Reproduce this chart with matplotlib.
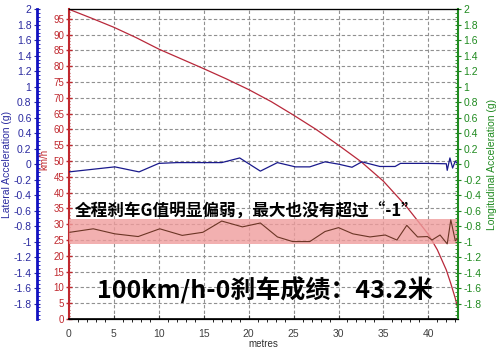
import matplotlib
matplotlib.use("Agg")
import matplotlib.pyplot as plt
from matplotlib.ticker import MultipleLocator

plt.rcParams['font.family'] = ['Liberation Sans', 'Noto Sans CJK SC', 'DejaVu Sans']

# speed trace (km/h) against distance (metres)
speed_x = [0, 2.5, 5, 7.5, 10, 12.5, 15, 17.5, 20, 22.5, 25, 27.5, 30, 32.5,
           35, 37.5, 39, 40, 41, 42, 42.5, 43, 43.3]
speed_v = [98, 95.2, 92.3, 89, 85.4, 82.3, 79.2, 76, 72.6, 68.8, 64.5, 60, 55,
           49.8, 43.6, 35.8, 30.4, 26.8, 21.9, 15.5, 11.2, 6.5, 3]

# lateral acceleration (g)
lat_x = [0, 5.1, 7.8, 10, 12, 15, 17, 19, 21.3, 23.2, 25.2, 26.8, 28.5, 30,
         31.5, 32.6, 34.6, 36.3, 36.9, 39.8, 42, 42.1, 42.4, 42.7, 43, 43.3]
lat_g = [-0.10, -0.035, -0.10, 0.01, 0.02, 0.02, 0.02, 0.08, -0.09, 0.02,
         -0.035, -0.035, 0.03, 0.0, -0.04, 0.03, -0.03, -0.03, 0.01, 0.01,
         0.005, -0.08, 0.08, -0.05, 0.04, 0.0]

# longitudinal acceleration (g)
lon_x = [0.1, 2.7, 5.1, 7.7, 10.1, 12.6, 14.9, 17, 19.3, 21.3, 23.2, 24.9,
         26.8, 28.5, 30, 31.6, 33.5, 35.2, 36.5, 37.6, 38.8, 39.9, 40.4, 41.3,
         42.1, 42.5, 43, 43.3]
lon_g = [-0.88, -0.835, -0.90, -0.935, -0.835, -0.92, -0.88, -0.735, -0.81,
         -0.76, -0.94, -1.0, -1.0, -0.87, -0.82, -0.90, -0.94, -0.915, -0.98,
         -0.79, -0.94, -0.935, -0.98, -0.915, -1.03, -0.72, -0.99, -0.96]

band = (-1.026, -0.714)

g_ticks = [2, 1.8, 1.6, 1.4, 1.2, 1, 0.8, 0.6, 0.4, 0.2, 0, -0.2, -0.4,
           -0.6, -0.8, -1, -1.2, -1.4, -1.6, -1.8]
g_labels = ['2', '1.8', '1.6', '1.4', '1.2', '1', '0.8', '0.6', '0.4', '0.2',
            '0', '-0.2', '-0.4', '-0.6', '-0.8', '-1', '-1.2', '-1.4', '-1.6',
            '-1.8']

note1 = "全程刹车G值明显偏弱，最大也没有超过“-1”"
note2 = "100km/h-0刹车成绩：43.2米"

blue = '#2a2aa0'
red = '#c0282e'
green = '#1f8a1f'

fig = plt.figure(figsize=(5, 3.55), dpi=100)
ax = fig.add_axes([0.138, 0.1014, 0.778, 0.8724])

# speed axis (main)
ax.plot(speed_x, speed_v, color='#b8283a', lw=0.9, zorder=3)
ax.set_xlim(0, 43.3)
ax.set_ylim(0, 98)
ax.yaxis.set_major_locator(MultipleLocator(5))
ax.yaxis.set_minor_locator(MultipleLocator(1))
ax.xaxis.set_major_locator(MultipleLocator(5))
ax.xaxis.set_minor_locator(MultipleLocator(1))
ax.grid(True, which='major', color='#909090', ls=(0, (3, 2)), lw=0.8)
ax.set_axisbelow(True)
ax.spines['left'].set_color(red)
ax.spines['left'].set_linewidth(1.5)
ax.spines['right'].set_visible(False)
ax.spines['bottom'].set_linewidth(1.2)
ax.tick_params(axis='y', colors=red, labelsize=7, direction='inout', length=4, width=1, pad=1.5)
ax.tick_params(axis='y', which='minor', colors=red, direction='inout', length=2)
ax.tick_params(axis='x', colors='#404040', labelsize=7.5, direction='in', length=3, pad=7)
ax.tick_params(axis='x', which='minor', length=2)
ax.set_xlabel('metres', fontsize=7, color='#303030', labelpad=0)

# lateral acceleration, outer left axis
ax_lat = ax.twinx()
ax_lat.spines['left'].set_visible(True)
ax_lat.spines['left'].set_position(('axes', -0.082))
ax_lat.spines['left'].set_color('#1010c0')
ax_lat.spines['left'].set_linewidth(2)
ax_lat.spines['right'].set_visible(False)
ax_lat.yaxis.set_ticks_position('left')
ax_lat.yaxis.set_label_position('left')
ax_lat.plot(lat_x, lat_g, color='#1a1a8c', lw=0.9, zorder=3)
ax_lat.set_ylim(-2, 2)
ax_lat.set_yticks(g_ticks)
ax_lat.set_yticklabels(g_labels)
ax_lat.yaxis.set_minor_locator(MultipleLocator(0.05))
ax_lat.tick_params(axis='y', colors=blue, labelsize=7.5, direction='inout', length=4, pad=2)
ax_lat.tick_params(axis='y', which='minor', colors='#1010c0', direction='in', length=2)
ax_lat.set_ylabel('Lateral Acceleration (g)', color=blue, fontsize=7.5, labelpad=1)

# longitudinal acceleration, right axis
ax_lon = ax.twinx()
ax_lon.spines['right'].set_color(green)
ax_lon.spines['right'].set_linewidth(1.5)
ax_lon.spines['left'].set_visible(False)
ax_lon.axhspan(band[0], band[1], color='#ef9c9c', alpha=0.8, lw=0, zorder=1)
ax_lon.plot(lon_x, lon_g, color='#6b3525', lw=0.8, zorder=3)
ax_lon.set_ylim(-2, 2)
ax_lon.set_yticks(g_ticks)
ax_lon.set_yticklabels(g_labels)
ax_lon.yaxis.set_minor_locator(MultipleLocator(0.05))
ax_lon.tick_params(axis='y', colors=green, labelsize=7.5, direction='inout', length=4, pad=2)
ax_lon.tick_params(axis='y', which='minor', colors=green, direction='in', length=2)
ax_lon.set_ylabel('Longitudinal Acceleration (g)', color=green, fontsize=7.5,
                  rotation=90, labelpad=4)

# km/h unit label sits between the blue and red axes
ax_lon.text(-0.064, 0.516, 'km/h', transform=ax.transAxes, rotation=90,
            color=red, fontsize=7, ha='center', va='center', zorder=10)

cjk = ['Noto Sans CJK SC', 'DejaVu Sans']
fig.text(0.15, 0.403, note1, family=cjk, fontweight='bold', fontsize=12,
         color='black', va='center', ha='left', zorder=10)
fig.text(0.194, 0.183, note2, family=cjk, fontweight='bold', fontsize=18,
         color='black', va='center', ha='left', zorder=10)

fig.savefig('out.png', dpi=100)
